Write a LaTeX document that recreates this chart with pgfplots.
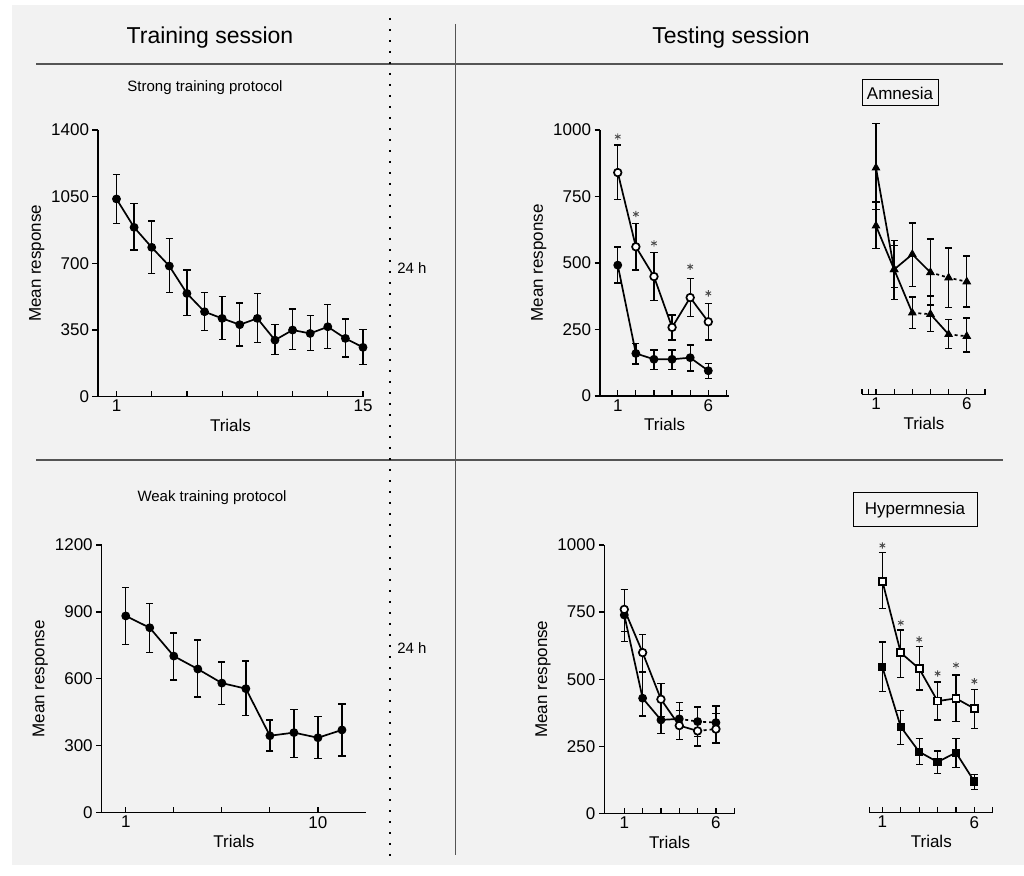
\documentclass[border=0pt]{standalone}
\usepackage{pgfplots}
\pgfplotsset{compat=1.18}
\usepackage{pgfplotstable}
\usepackage{fontspec}
\setmainfont{Liberation Sans}
\definecolor{bg}{HTML}{F2F2F2}
\definecolor{rulec}{HTML}{555555}

\pgfplotstableread{
x y ep em
1 1038 129 128
2 889 126 119
3 784 138 138
4 686 145 140
5 542 123 117
6 446 102 98
7 411 114 112
8 378 114 112
9 411 130 126
10 297 81 77
11 350 110 103
12 332 95 89
13 367 118 115
14 306 102 98
15 259 94 89
}\dataA

\pgfplotstableread{
x y ep em
1 492 68 67
2 160 38 40
3 138 35 38
4 138 35 38
5 144 48 50
6 95 28 29
}\dataBf
\pgfplotstableread{
x y ep em
1 840 104 101
2 561 88 87
3 449 90 91
4 258 47 47
5 370 72 72
6 279 69 68
}\dataBo
\pgfplotstableread{
x y
1 975
2 684
3 574
5 486
6 386
}\starB

\pgfplotstableread{
x y ep em
1 852 166 157
2 470 110 112
3 307 60 59
4 302 68 66
5 226 56 53
6 219 69 59
}\dataCa
\pgfplotstableread{
x y ep em
1 634 90 85
2 470 91 68
3 527 118 122
4 459 125 123
5 439 112 112
6 424 97 95
}\dataCb

\pgfplotstableread{
x y ep em
1 882 127 127
2 829 108 110
3 702 103 107
4 644 130 125
5 581 94 95
6 556 124 120
7 345 70 69
8 359 104 111
9 336 94 92
10 371 116 117
}\dataD

\pgfplotstableread{
x y ep em
1 739 96 99
2 429 99 66
3 348 74 50
4 352 62 76
5 342 56 56
6 338 35 75
}\dataEf
\pgfplotstableread{
x y ep em
1 760 75 83
2 599 68 75
3 425 59 65
4 327 56 51
5 307 88 56
6 314 86 53
}\dataEo

\pgfplotstableread{
x y ep em
1 863 106 102
2 596 85 91
3 537 82 80
4 416 71 71
5 426 87 85
6 388 72 75
}\dataFo
\pgfplotstableread{
x y
1 996
2 708
3 646
4 519
5 550
6 490
}\starF
\pgfplotstableread{
x y ep em
1 543 93 90
2 320 62 65
3 227 49 47
4 189 41 43
5 224 53 56
6 116 27 29
}\dataFf

\pgfplotsset{
  panel/.style={scale only axis, clip=false,
    axis x line=bottom, axis y line=left,
    axis line style={-, line width=1.4pt, black},
    every tick/.style={black, line width=1.2pt}, major tick length=5.5pt,
    xtick align=inside, ytick align=outside,
    tick label style={font=\fontsize{17}{19}\selectfont},
    label style={font=\fontsize{17}{19}\selectfont},
    /pgf/number format/assume math mode=true,
    /pgf/number format/1000 sep={},
    xlabel={Trials}, ylabel={Mean response}, ymin=0},
  ln/.style={black, line width=1.7pt, mark=none},
  ser/.style={black, line width=1.7pt, mark=*, mark size=3.8pt,
    mark options={solid, fill=black, line width=1.2pt},
    error bars/y dir=both, error bars/y explicit,
    error bars/error bar style={line width=1.3pt, solid},
    error bars/error mark options={rotate=90, line width=1.3pt, mark size=3.6pt, solid}},
  star/.style={only marks, mark=asterisk, mark size=3.2pt, black!70, line width=0.9pt},
}

\begin{document}
\begin{tikzpicture}
\begin{scope}[x=1pt,y=1pt]
\fill[white] (0,0) rectangle (1024,875);
\fill[bg] (12,10) rectangle (1024,870);
\draw[rulec, line width=1.5pt] (36,811) -- (1003,811);
\draw[rulec, line width=1.5pt] (36,415) -- (1003,415);
\draw[rulec, line width=1pt] (455.5,851) -- (455.5,20);
\draw[black, line width=2pt, dash pattern=on 2pt off 9pt] (390,857) -- (390,15);
\node[font=\fontsize{23}{27}\selectfont] at (210,837) {Training session};
\node[font=\fontsize{23}{27}\selectfont] at (731,837) {Testing session};
\node[font=\fontsize{15}{18}\selectfont] at (205,787) {Strong training protocol};
\node[font=\fontsize{15}{18}\selectfont] at (212,377) {Weak training protocol};
\node[font=\fontsize{15}{18}\selectfont] at (412,607) {24 h};
\node[font=\fontsize{15}{18}\selectfont] at (412,227) {24 h};
\node[draw, line width=1pt, font=\fontsize{17}{19}\selectfont, minimum width=76pt, minimum height=26pt, inner sep=2pt] at (900,782) {Amnesia};
\node[draw, line width=1pt, font=\fontsize{17}{19}\selectfont, minimum width=124pt, minimum height=34pt, inner sep=2pt] at (915,365) {Hypermnesia};
\end{scope}

% Top-left: strong training
\begin{axis}[panel, at={(98pt,478.3pt)}, anchor=south west, width=265pt, height=266.7pt,
  xmin=-0.05, xmax=15, ymax=1400, ytick={0,350,700,1050,1400},
  xtick={1,3,...,15}, xticklabels={1,,,,,,,15}]
\addplot[ser] table[x=x, y=y, y error plus=ep, y error minus=em] {\dataA};
\end{axis}

% Top-middle
\begin{axis}[panel, at={(600pt,479pt)}, anchor=south west, width=129.3pt, height=266pt,
  xmin=0.02, xmax=7.16, ymax=1000, ytick={0,250,500,750,1000},
  xtick={1,...,7}, xticklabels={1,,,,,6,}]
\addplot[ser] table[x=x, y=y, y error plus=ep, y error minus=em] {\dataBf};
\addplot[ser, mark options={fill=white}] table[x=x, y=y, y error plus=ep, y error minus=em] {\dataBo};
\addplot[star] table[x=x, y=y] {\starB};
\end{axis}

% Top-right
\begin{axis}[panel, axis y line=none, ylabel={}, at={(862pt,480.5pt)}, anchor=south west, width=124pt, height=266pt,
  xmin=0.23, xmax=7.06, ymax=1000,
  xtick={1,...,7}, xticklabels={1,,,,,6,},
  extra x ticks={0.23,0.6}, extra x tick labels={,}]
\addplot[ln, restrict x to domain=1:3] table[x=x, y=y] {\dataCa};
\addplot[ln, dashed, restrict x to domain=3:4] table[x=x, y=y] {\dataCa};
\addplot[ln, restrict x to domain=4:5] table[x=x, y=y] {\dataCa};
\addplot[ln, dashed, restrict x to domain=5:6] table[x=x, y=y] {\dataCa};
\addplot[ln, restrict x to domain=1:4] table[x=x, y=y] {\dataCb};
\addplot[ln, dashed, restrict x to domain=4:6] table[x=x, y=y] {\dataCb};
\addplot[ser, only marks, mark=triangle*, mark size=4pt] table[x=x, y=y, y error plus=ep, y error minus=em] {\dataCa};
\addplot[ser, only marks, mark=triangle*, mark size=4pt] table[x=x, y=y, y error plus=ep, y error minus=em] {\dataCb};
\end{axis}

% Bottom-left: weak training
\begin{axis}[panel, at={(101.7pt,62.3pt)}, anchor=south west, width=264.3pt, height=267.7pt,
  xmin=0, xmax=11, ymax=1200, ytick={0,300,600,900,1200},
  xtick={1,3,5,7,9}, xticklabels={1,,,,10}]
\addplot[ser] table[x=x, y=y, y error plus=ep, y error minus=em] {\dataD};
\end{axis}

% Bottom-middle
\begin{axis}[panel, at={(604.3pt,61.7pt)}, anchor=south west, width=130.7pt, height=268.3pt,
  xmin=-0.09, xmax=7.04, ymax=1000, ytick={0,250,500,750,1000},
  xtick={1,...,7}, xticklabels={1,,,,,6,}]
\addplot[ln, restrict x to domain=1:4] table[x=x, y=y] {\dataEf};
\addplot[ln, dashed, restrict x to domain=4:6] table[x=x, y=y] {\dataEf};
\addplot[ln, restrict x to domain=1:5] table[x=x, y=y] {\dataEo};
\addplot[ln, dashed, restrict x to domain=5:6] table[x=x, y=y] {\dataEo};
\addplot[ser, only marks] table[x=x, y=y, y error plus=ep, y error minus=em] {\dataEf};
\addplot[ser, only marks, mark options={fill=white}] table[x=x, y=y, y error plus=ep, y error minus=em] {\dataEo};
\end{axis}

% Bottom-right
\begin{axis}[panel, axis y line=none, ylabel={}, at={(869.3pt,62.3pt)}, anchor=south west, width=124pt, height=268.3pt,
  xmin=0.29, xmax=7.03, ymax=1000,
  xtick={1,...,7}, xticklabels={1,,,,,6,},
  extra x ticks={0.29}, extra x tick labels={}]
\addplot[ser, mark=square*, mark size=3.5pt] table[x=x, y=y, y error plus=ep, y error minus=em] {\dataFf};
\addplot[ser, mark=square*, mark size=3.5pt, mark options={fill=white}] table[x=x, y=y, y error plus=ep, y error minus=em] {\dataFo};
\addplot[star] table[x=x, y=y] {\starF};
\end{axis}

\pgfresetboundingbox
\path[use as bounding box] (0pt,0pt) rectangle (1024pt,875pt);
\end{tikzpicture}
\end{document}
